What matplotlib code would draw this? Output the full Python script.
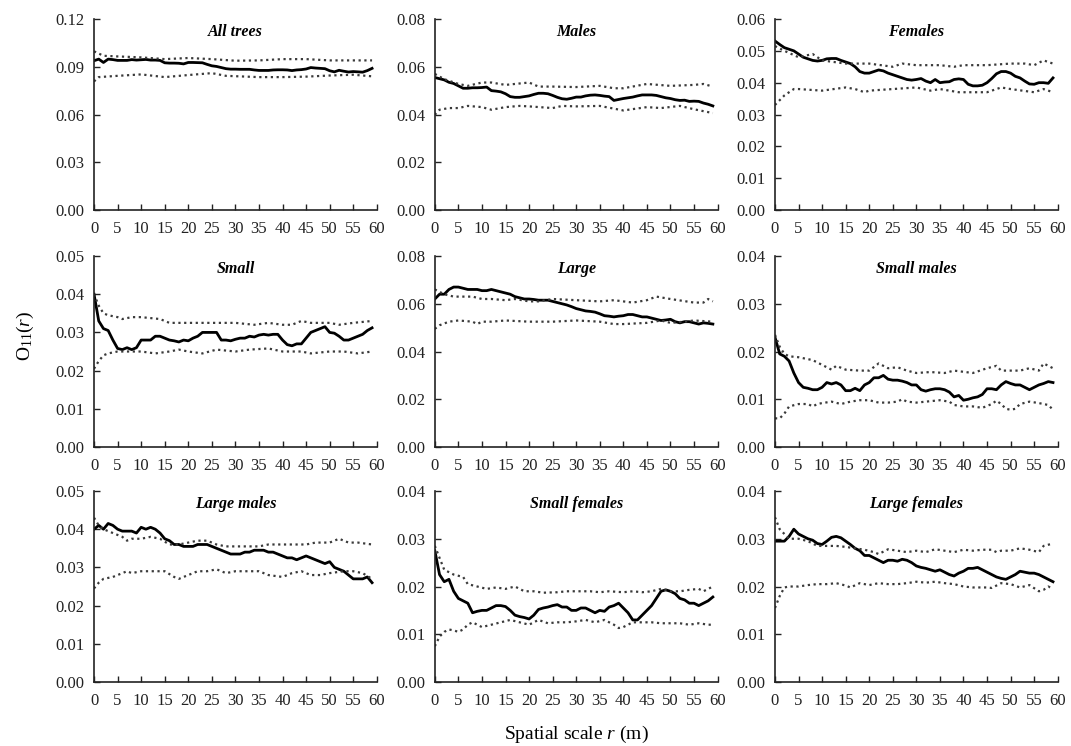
import matplotlib
matplotlib.use("Agg")
import matplotlib.pyplot as plt
import numpy as np

plt.rcParams["font.family"] = ["Liberation Serif", "DejaVu Serif"]
plt.rcParams["mathtext.fontset"] = "custom"
plt.rcParams["mathtext.rm"] = "Liberation Serif"
plt.rcParams["mathtext.it"] = "Liberation Serif:italic"

r = np.arange(60)

# observed O11(r) at 1 m steps
all_obs = [.0938, .0948, .0927, .0948, .0945, .0940, .0940, .0940, .0945, .0942,
           .0944, .0946, .0942, .0942, .0940, .0925, .0923, .0923, .0922, .0918,
           .0927, .0927, .0926, .0925, .0915, .0906, .0902, .0895, .0888, .0885,
           .0885, .0884, .0884, .0884, .0880, .0877, .0877, .0877, .0880, .0881,
           .0881, .0880, .0876, .0880, .0882, .0886, .0895, .0892, .0890, .0888,
           .0875, .0868, .0878, .0872, .0867, .0870, .0868, .0866, .0876, .0890]
males_obs = [.0555, .0550, .0545, .0535, .0530, .0520, .0510, .0510, .0512, .0512,
             .0513, .0515, .0500, .0498, .0495, .0487, .0475, .0472, .0472, .0475,
             .0478, .0484, .0489, .0489, .0487, .0480, .0472, .0466, .0464, .0468,
             .0473, .0473, .0478, .0481, .0482, .0480, .0477, .0475, .0459, .0463,
             .0467, .0470, .0473, .0478, .0482, .0482, .0482, .0480, .0475, .0470,
             .0467, .0462, .0459, .0460, .0455, .0456, .0455, .0448, .0443, .0436]
females_obs = [.0531, .0520, .0510, .0505, .0500, .0490, .0480, .0475, .0470, .0468,
               .0470, .0475, .0476, .0476, .0470, .0465, .0460, .0450, .0435, .0430,
               .0430, .0435, .0440, .0437, .0430, .0425, .0420, .0415, .0410, .0408,
               .0410, .0413, .0405, .0400, .0410, .0400, .0402, .0403, .0410, .0412,
               .0410, .0395, .0390, .0390, .0392, .0400, .0413, .0428, .0435, .0435,
               .0430, .0420, .0415, .0405, .0396, .0395, .0400, .0400, .0398, .0415]
small_obs = [.0400, .0330, .0310, .0305, .0280, .0258, .0255, .0260, .0255, .0260,
             .0280, .0280, .0280, .0290, .0290, .0285, .0280, .0278, .0275, .0280,
             .0278, .0285, .0290, .0300, .0300, .0300, .0300, .0280, .0280, .0278,
             .0282, .0285, .0285, .0290, .0288, .0293, .0295, .0293, .0295, .0295,
             .0280, .0268, .0265, .0270, .0270, .0285, .0300, .0305, .0310, .0315,
             .0300, .0298, .0290, .0280, .0280, .0285, .0290, .0295, .0305, .0312]
large_obs = [.0620, .0640, .0640, .0660, .0670, .0670, .0665, .0660, .0660, .0660,
             .0655, .0655, .0660, .0655, .0650, .0645, .0640, .0630, .0625, .0620,
             .0620, .0618, .0615, .0615, .0615, .0610, .0605, .0600, .0595, .0588,
             .0580, .0575, .0570, .0568, .0565, .0558, .0550, .0548, .0545, .0548,
             .0550, .0555, .0555, .0550, .0545, .0545, .0540, .0535, .0530, .0532,
             .0535, .0525, .0520, .0525, .0525, .0520, .0515, .0520, .0518, .0515]
smallm_obs = [.0230, .0195, .0190, .0180, .0155, .0135, .0125, .0123, .0120, .0120,
              .0125, .0135, .0132, .0135, .0130, .0118, .0118, .0123, .0118, .0130,
              .0135, .0145, .0145, .0150, .0142, .0140, .0140, .0138, .0135, .0130,
              .0130, .0120, .0117, .0120, .0122, .0122, .0120, .0115, .0105, .0108,
              .0098, .0100, .0103, .0105, .0110, .0122, .0122, .0120, .0130, .0137,
              .0133, .0130, .0130, .0125, .0120, .0125, .0130, .0133, .0137, .0135]
largem_obs = [.0400, .0410, .0400, .0415, .0410, .0400, .0395, .0395, .0395, .0390,
              .0405, .0400, .0405, .0400, .0390, .0375, .0370, .0360, .0360, .0355,
              .0355, .0355, .0360, .0360, .0360, .0355, .0350, .0345, .0340, .0335,
              .0335, .0335, .0340, .0340, .0345, .0345, .0345, .0340, .0340, .0335,
              .0330, .0325, .0325, .0320, .0325, .0330, .0325, .0320, .0315, .0310,
              .0315, .0300, .0295, .0290, .0280, .0270, .0270, .0270, .0275, .0260]
smallf_obs = [.0275, .0225, .0210, .0215, .0190, .0175, .0170, .0165, .0145, .0148,
              .0150, .0150, .0155, .0160, .0160, .0158, .0150, .0140, .0137, .0135,
              .0132, .0140, .0152, .0155, .0157, .0160, .0162, .0157, .0157, .0150,
              .0150, .0155, .0155, .0150, .0145, .0150, .0148, .0157, .0160, .0165,
              .0155, .0145, .0130, .0130, .0140, .0150, .0160, .0175, .0190, .0193,
              .0190, .0185, .0175, .0172, .0165, .0165, .0160, .0165, .0170, .0178]
largef_obs = [.0295, .0295, .0295, .0305, .0320, .0310, .0305, .0300, .0297, .0290,
              .0288, .0295, .0303, .0305, .0302, .0295, .0288, .0280, .0275, .0265,
              .0265, .0260, .0255, .0250, .0255, .0255, .0253, .0257, .0255, .0250,
              .0243, .0240, .0238, .0235, .0232, .0235, .0230, .0225, .0222, .0228,
              .0232, .0238, .0238, .0240, .0235, .0230, .0225, .0220, .0217, .0215,
              .0220, .0225, .0232, .0230, .0228, .0228, .0225, .0220, .0215, .0210]

# simulation envelopes as (r, value) pairs
all_hi = [(0, .0997), (2, .0969), (5, .0965), (10, .0959), (15, .0948), (20, .0955),
          (25, .0948), (30, .0938), (35, .0940), (40, .0948), (45, .0948), (50, .0940),
          (55, .0940), (59, .0940)]
all_lo = [(0, .0808), (1, .0835), (5, .0843), (10, .0852), (15, .0835), (20, .0848),
          (25, .0860), (28, .0843), (35, .0835), (40, .0835), (45, .0838), (50, .0845),
          (55, .0850), (59, .0840)]
males_hi = [(0, .0570), (2, .0548), (5, .0528), (7, .0520), (10, .0534), (12, .0534),
            (15, .0524), (20, .0534), (22, .0517), (25, .0517), (30, .0515), (35, .0520),
            (38, .0510), (40, .0510), (45, .0528), (50, .0520), (55, .0524), (57, .0528),
            (59, .0517)]
males_lo = [(0, .0399), (1, .0420), (3, .0427), (5, .0427), (7, .0436), (10, .0431),
            (12, .0420), (15, .0431), (18, .0436), (20, .0434), (25, .0427), (27, .0436),
            (30, .0434), (35, .0436), (40, .0417), (45, .0431), (48, .0427), (52, .0436),
            (55, .0422), (59, .0406)]
females_hi = [(0, .0515), (2, .0500), (5, .0480), (8, .0490), (10, .0470), (15, .0460),
              (20, .0460), (25, .0450), (27, .0460), (30, .0455), (35, .0455), (38, .0450),
              (40, .0455), (45, .0455), (50, .0460), (53, .0460), (55, .0455), (57, .0470),
              (59, .0460)]
females_lo = [(0, .0330), (2, .0360), (4, .0380), (5, .0380), (10, .0375), (15, .0385),
              (17, .0380), (19, .0370), (20, .0375), (25, .0380), (30, .0385), (33, .0375),
              (35, .0380), (37, .0375), (39, .0370), (43, .0370), (45, .0370), (48, .0385),
              (50, .0380), (55, .0370), (57, .0380), (59, .0370)]
small_hi = [(0, .0400), (1, .0370), (2, .0350), (3, .0345), (5, .0340), (6, .0335),
            (8, .0340), (10, .0340), (14, .0335), (16, .0325), (20, .0325), (25, .0325),
            (30, .0325), (34, .0320), (37, .0325), (40, .0320), (42, .0320), (44, .0330),
            (46, .0325), (50, .0325), (52, .0320), (55, .0325), (59, .0330)]
small_lo = [(0, .0205), (1, .0225), (2, .0240), (3, .0245), (5, .0250), (8, .0250),
            (10, .0250), (13, .0245), (16, .0250), (18, .0255), (20, .0250), (23, .0245),
            (26, .0255), (30, .0250), (33, .0255), (37, .0258), (40, .0250), (44, .0250),
            (46, .0245), (50, .0250), (53, .0250), (56, .0245), (59, .0250)]
large_hi = [(0, .0660), (2, .0640), (4, .0630), (6, .0630), (8, .0630), (10, .0620),
            (12, .0620), (15, .0615), (17, .0620), (20, .0610), (22, .0610), (25, .0620),
            (30, .0615), (35, .0610), (38, .0615), (42, .0605), (45, .0615), (47, .0630),
            (50, .0620), (55, .0605), (57, .0605), (58, .0620), (59, .0610)]
large_lo = [(0, .0495), (1, .0510), (3, .0525), (5, .0530), (8, .0525), (9, .0515),
            (10, .0525), (12, .0525), (15, .0530), (20, .0525), (25, .0525), (30, .0530),
            (35, .0525), (38, .0515), (40, .0515), (45, .0520), (48, .0530), (50, .0520),
            (53, .0525), (55, .0530), (59, .0525)]
smallm_hi = [(0, .0235), (1, .0210), (2, .0195), (3, .0190), (5, .0188), (8, .0182),
             (10, .0172), (12, .0162), (13, .0170), (15, .0162), (18, .0160), (20, .0160),
             (22, .0175), (24, .0165), (26, .0167), (28, .0160), (30, .0155), (33, .0157),
             (36, .0155), (38, .0160), (42, .0155), (45, .0165), (47, .0170), (48, .0160),
             (50, .0160), (52, .0160), (54, .0165), (56, .0160), (57, .0175), (59, .0165)]
smallm_lo = [(0, .0060), (1, .0060), (2, .0070), (3, .0085), (5, .0090), (7, .0090),
             (8, .0085), (9, .0090), (10, .0092), (12, .0095), (14, .0090), (16, .0095),
             (18, .0098), (20, .0098), (22, .0093), (24, .0093), (26, .0095), (27, .0100),
             (28, .0095), (30, .0093), (35, .0098), (37, .0095), (38, .0088), (40, .0085),
             (42, .0085), (44, .0082), (46, .0090), (47, .0097), (48, .0090), (49, .0080),
             (50, .0078), (51, .0080), (52, .0090), (54, .0095), (56, .0092), (58, .0088),
             (59, .0078)]
largem_hi = [(0, .0430), (1, .0410), (2, .0400), (4, .0390), (6, .0380), (7, .0370),
             (8, .0375), (10, .0375), (12, .0380), (14, .0375), (16, .0360), (18, .0360),
             (20, .0365), (22, .0370), (24, .0370), (26, .0360), (28, .0355), (30, .0355),
             (32, .0355), (35, .0355), (37, .0360), (40, .0360), (45, .0360), (47, .0365),
             (50, .0365), (52, .0375), (54, .0365), (56, .0365), (59, .0360)]
largem_lo = [(0, .0245), (1, .0260), (2, .0270), (4, .0275), (6, .0285), (7, .0290),
             (8, .0285), (10, .0290), (12, .0290), (15, .0290), (17, .0275), (18, .0270),
             (20, .0280), (22, .0290), (24, .0290), (26, .0295), (27, .0290), (28, .0285),
             (30, .0290), (35, .0290), (37, .0280), (40, .0275), (42, .0285), (44, .0290),
             (46, .0280), (48, .0280), (50, .0285), (53, .0290), (55, .0290), (57, .0285),
             (59, .0270)]
smallf_hi = [(0, .0285), (1, .0260), (2, .0235), (4, .0225), (6, .0220), (7, .0205),
             (9, .0200), (11, .0195), (13, .0198), (15, .0195), (17, .0200), (19, .0190),
             (21, .0190), (23, .0187), (26, .0188), (28, .0190), (30, .0190), (33, .0190),
             (35, .0188), (37, .0190), (40, .0188), (42, .0190), (44, .0188), (46, .0190),
             (48, .0195), (50, .0190), (52, .0190), (54, .0193), (56, .0195), (57, .0190),
             (59, .0200)]
smallf_lo = [(0, .0075), (1, .0095), (2, .0105), (3, .0110), (4, .0108), (5, .0105),
             (6, .0110), (7, .0120), (8, .0125), (9, .0120), (10, .0115), (12, .0120),
             (14, .0125), (16, .0130), (18, .0125), (20, .0120), (22, .0130), (24, .0123),
             (26, .0125), (28, .0125), (30, .0127), (32, .0130), (34, .0125), (36, .0130),
             (38, .0120), (39, .0113), (40, .0115), (42, .0125), (44, .0125), (46, .0125),
             (48, .0123), (50, .0123), (52, .0123), (54, .0120), (56, .0123), (58, .0120),
             (59, .0120)]
largef_hi = [(0, .0345), (1, .0320), (2, .0310), (3, .0300), (5, .0300), (7, .0295),
             (9, .0285), (11, .0285), (13, .0285), (15, .0283), (17, .0280), (19, .0277),
             (21, .0272), (22, .0268), (24, .0278), (26, .0275), (28, .0272), (30, .0275),
             (32, .0272), (34, .0278), (36, .0275), (38, .0272), (40, .0277), (42, .0275),
             (44, .0277), (46, .0277), (47, .0272), (48, .0275), (50, .0275), (52, .0280),
             (54, .0277), (56, .0272), (57, .0285), (59, .0290)]
largef_lo = [(0, .0155), (1, .0180), (2, .0198), (3, .0200), (5, .0200), (7, .0203),
             (9, .0205), (11, .0205), (13, .0207), (15, .0202), (16, .0198), (18, .0207),
             (20, .0203), (22, .0207), (24, .0205), (26, .0205), (28, .0207), (30, .0210),
             (32, .0208), (34, .0210), (36, .0207), (38, .0205), (40, .0200), (42, .0198),
             (45, .0198), (46, .0197), (48, .0207), (50, .0205), (52, .0198), (54, .0203),
             (56, .0190), (57, .0193), (58, .0200), (59, .0195)]

titles = ["All trees", "Males", "Females", "Small", "Large", "Small males",
          "Large males", "Small females", "Large females"]
observed = [all_obs, males_obs, females_obs, small_obs, large_obs, smallm_obs,
            largem_obs, smallf_obs, largef_obs]
upper = [all_hi, males_hi, females_hi, small_hi, large_hi, smallm_hi,
         largem_hi, smallf_hi, largef_hi]
lower = [all_lo, males_lo, females_lo, small_lo, large_lo, smallm_lo,
         largem_lo, smallf_lo, largef_lo]
ymax = [0.12, 0.08, 0.06, 0.05, 0.08, 0.04, 0.05, 0.04, 0.04]
ystep = [0.03, 0.02, 0.01, 0.01, 0.02, 0.01, 0.01, 0.01, 0.01]

fig = plt.figure(figsize=(10.71, 7.46), dpi=100)
lefts = [0.0878, 0.406, 0.7236]
bottoms = [0.7185, 0.4008, 0.0858]
w, h = 0.264, 0.256

for i in range(9):
    ax = fig.add_axes([lefts[i % 3], bottoms[i // 3], w, h])
    ax.plot(r, observed[i], color="black", lw=2.0)
    for env in (upper[i], lower[i]):
        er, ev = zip(*env)
        ax.plot(er, ev, color="#3a3a3a", lw=1.6, linestyle=(0, (1, 1.6)))
    ax.set_xlim(0, 60)
    ax.set_ylim(0, ymax[i])
    ax.set_xticks(np.arange(0, 61, 5))
    ax.set_yticks(np.arange(0, ymax[i] + 1e-9, ystep[i]))
    ax.yaxis.set_major_formatter(plt.FormatStrFormatter("%.2f"))
    ax.spines["top"].set_visible(False)
    ax.spines["right"].set_visible(False)
    for s in ("left", "bottom"):
        ax.spines[s].set_linewidth(1.2)
        ax.spines[s].set_color("#222222")
    ax.tick_params(direction="in", length=4, width=1.0, labelsize=12,
                   colors="#222222")
    ax.tick_params(axis="x", pad=8)
    ax.tick_params(axis="y", pad=7)
    ax.text(0.5, 0.93, titles[i], transform=ax.transAxes, ha="center", va="center",
            fontsize=11.5, fontweight="bold", fontstyle="italic")

fig.text(0.024, 0.55, r"O$_{11}$($\it{r}$)", rotation=90, ha="center", va="center",
         fontsize=14)
fig.text(0.538, 0.016, r"Spatial scale $r$ (m)", ha="center", va="center", fontsize=14)

fig.savefig("out.png", dpi=100)
